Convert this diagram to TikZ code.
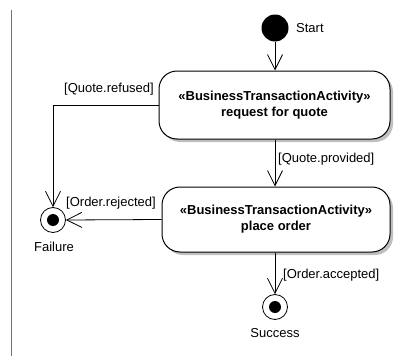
\documentclass[tikz,border=0pt]{standalone}
\usepackage{fontspec}
\setmainfont{Liberation Sans}
\usetikzlibrary{arrows.meta}
\begin{document}
\begin{tikzpicture}[x=1pt,y=-1pt,
  every node/.style={font=\fontsize{13}{15}\selectfont, inner sep=0pt},
  activity/.style={draw, line width=1pt, rounded corners=18pt, fill=white,
    align=center, font=\bfseries\fontsize{13}{16}\selectfont},
  shadowbox/.style={fill=black!25, rounded corners=18pt},
  flow/.style={draw, line width=0.8pt, -{Straight Barb[length=15pt,width=15pt,line width=0.8pt]}},
  initial/.style={circle, fill=black, minimum size=27pt},
  final/.style={circle, draw, line width=0.8pt, fill=white, minimum size=25pt,
    path picture={\fill[black] (path picture bounding box.center) circle (6pt);}},
  guard/.style={font=\fontsize{13}{15}\selectfont}
]
\useasboundingbox (0,0) rectangle (410,356);

% swimlane boundary
\draw[black!55, line width=0.8pt] (11.5,10) -- (11.5,356);

% drop shadows of the activities
\fill[shadowbox] (162,74) rectangle (393,142);
\fill[shadowbox] (165,190) rectangle (393,255);

% activities
\node[activity, minimum width=231pt, minimum height=68pt] (rfq) at (274.5,105)
  {«BusinessTransactionActivity»\\request for quote};
\node[activity, minimum width=228pt, minimum height=65pt] (po) at (276,219.5)
  {«BusinessTransactionActivity»\\place order};

% initial and final nodes
\node[initial] (start) at (275,28) {};
\node[anchor=west] (startlbl) at (296,28) {Start};
\node[final] (fail) at (53,220) {};
\node (faillbl) at (54,247) {Failure};
\node[final] (succ) at (275,307) {};
\node (succlbl) at (275,333) {Success};

% control flows
\draw[flow] (start) -- (rfq.north -| start);
\draw[flow] (rfq.south -| start) -- (po.north -| start);
\draw[flow] (rfq.west) -| (fail.north);
\draw[flow] (po.west) -- (fail.east);
\draw[flow] (po.south -| succ) -- (succ.north);

% guards
\node[guard, anchor=west] (g1) at (278,159) {[Quote.provided]};
\node[guard, anchor=east] (g2) at (154,89) {[Quote.refused]};
\node[guard, anchor=west] (g3) at (66,203) {[Order.rejected]};
\node[guard, anchor=west] (g4) at (283,275) {[Order.accepted]};
\end{tikzpicture}
\end{document}
